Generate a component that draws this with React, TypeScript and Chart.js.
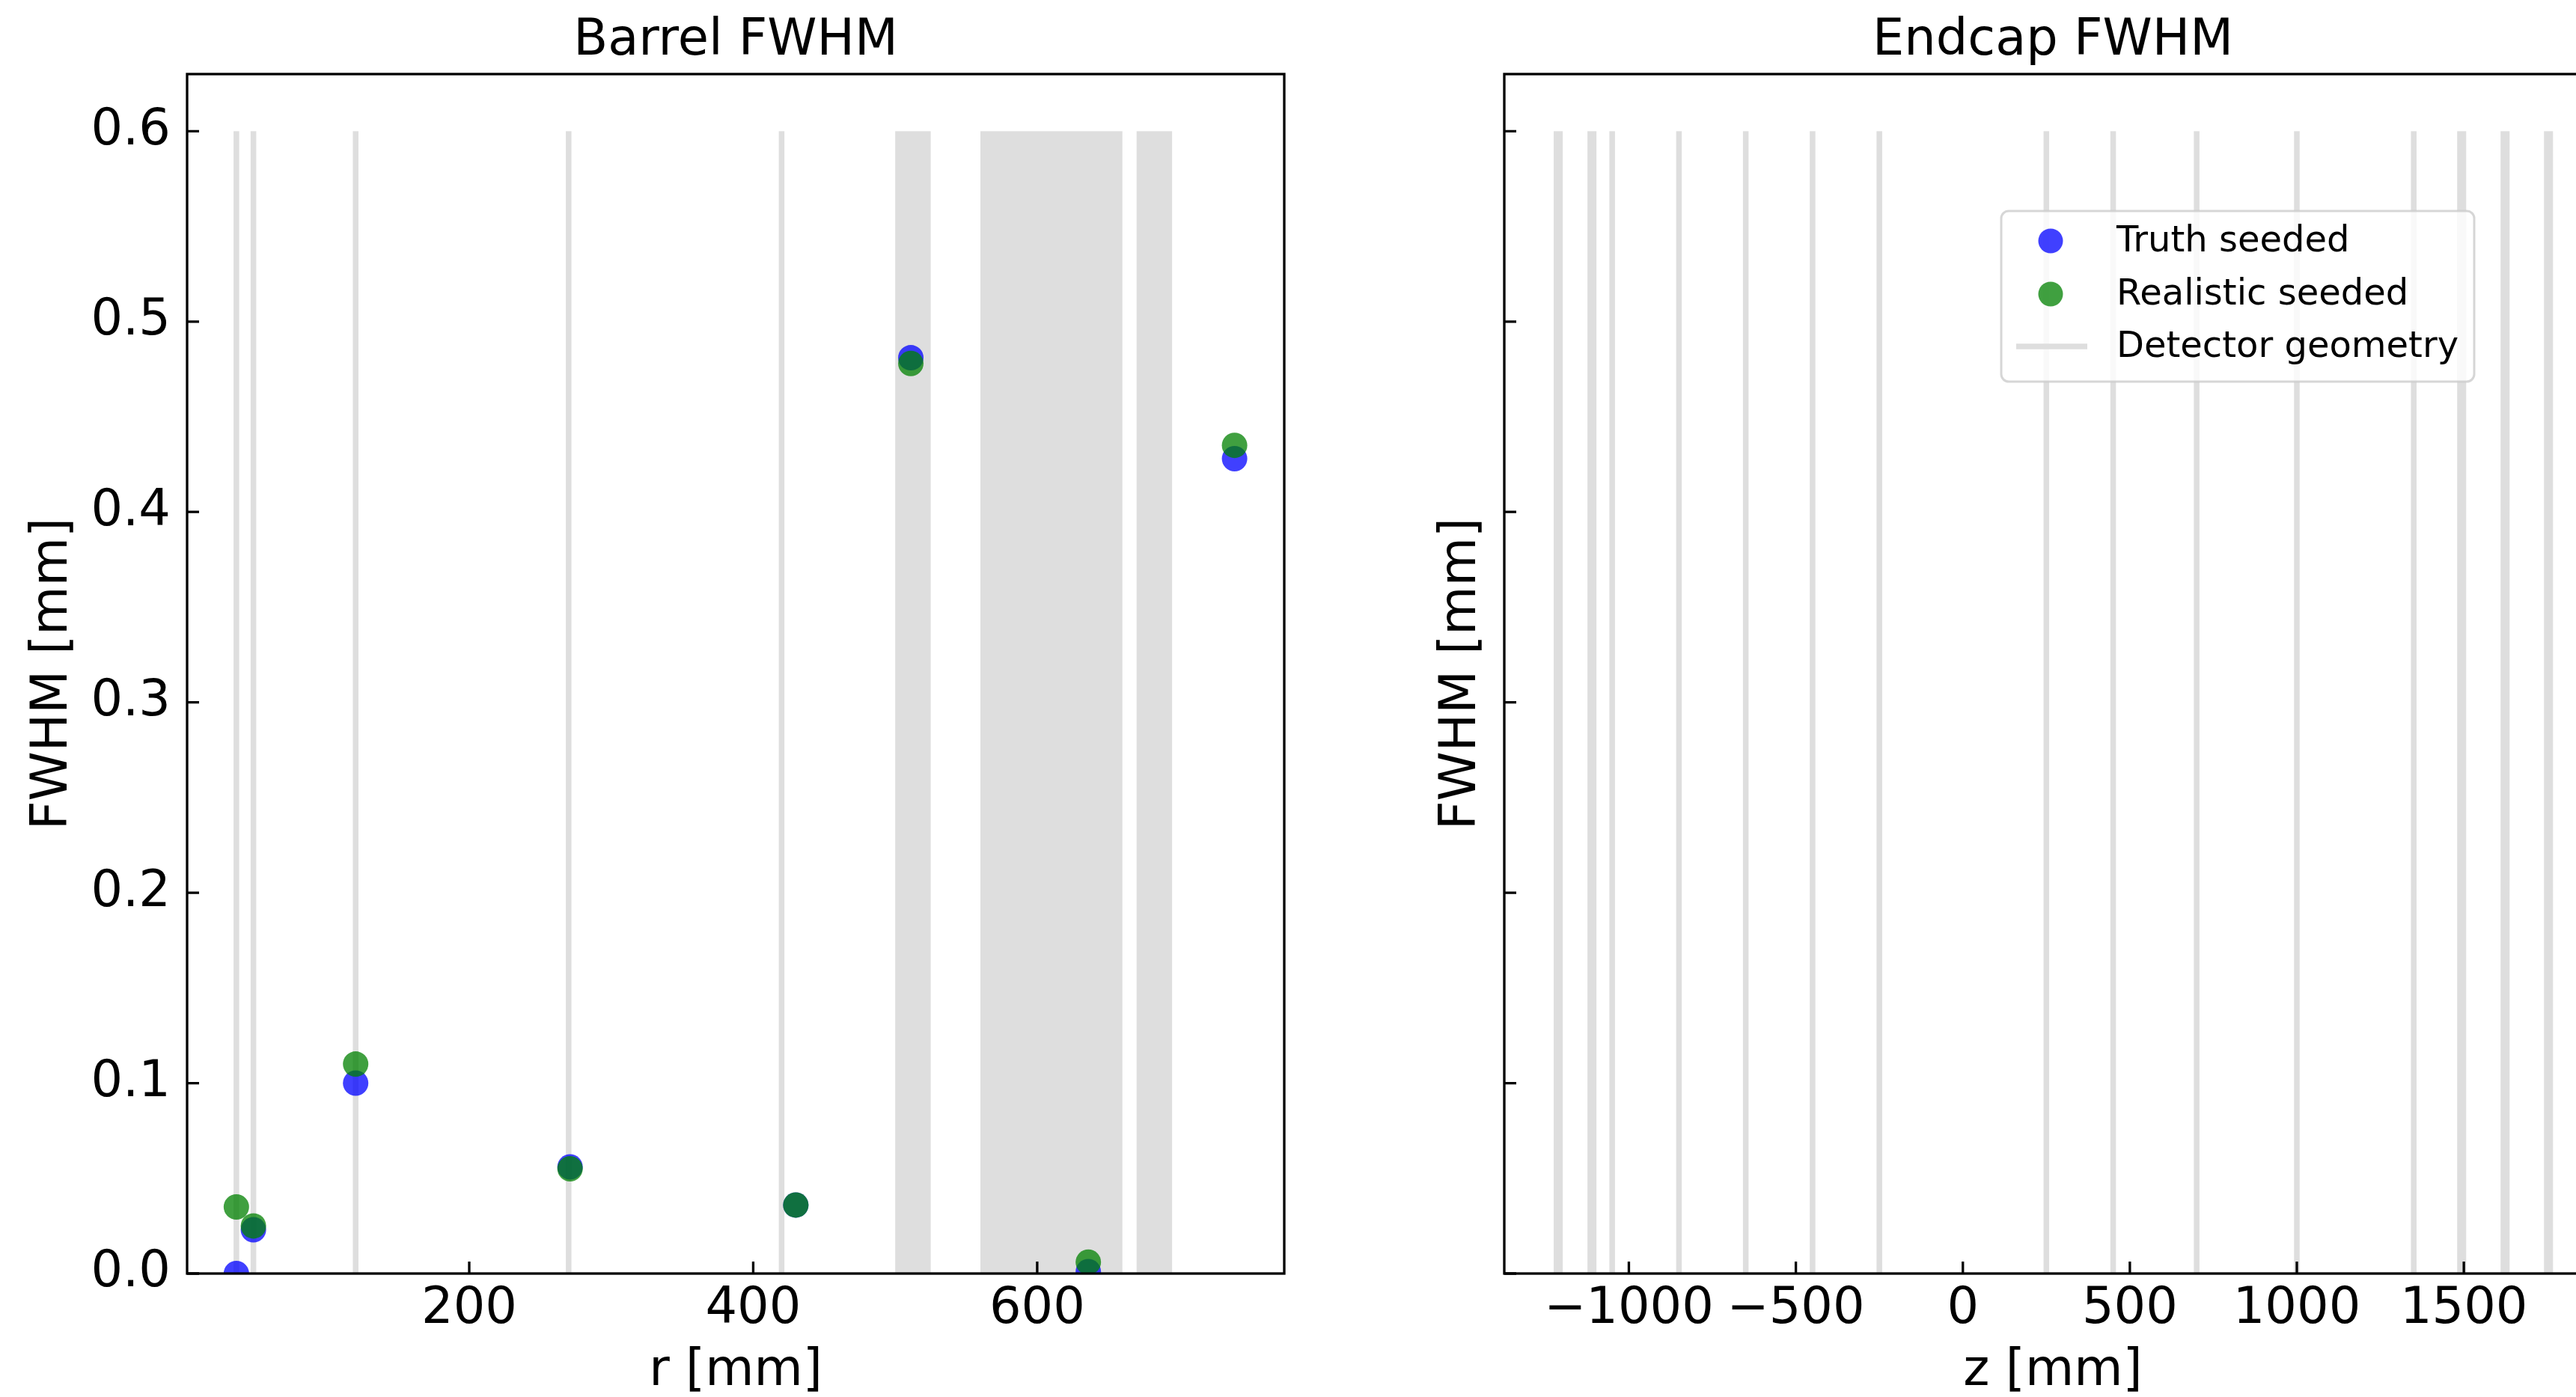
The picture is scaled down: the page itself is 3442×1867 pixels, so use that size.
import React, { useEffect, useRef } from 'react';
import { Chart, registerables } from 'chart.js';

Chart.register(...registerables);

// ---------- data ----------
const BARREL_R = [36, 48, 120, 271, 430, 511, 636, 739];
const BARREL_TRUTH = [0.0, 0.023, 0.1, 0.056, 0.036, 0.481, 0.001, 0.428];
const BARREL_REALISTIC = [0.035, 0.025, 0.11, 0.055, 0.036, 0.478, 0.006, 0.435];
const BARREL_LINES = [36, 48, 120, 270, 420];
const BARREL_BANDS: [number, number][] = [[500, 525], [560, 660], [670, 695]];

const ENDCAP_Z: number[] = [];
const ENDCAP_TRUTH: number[] = [];
const ENDCAP_REALISTIC: number[] = [];
const ENDCAP_LINES = [-1050, -850, -650, -450, -250, 250, 450, 700, 1000, 1350];
const ENDCAP_BANDS: [number, number][] = [[-1225, -1198], [-1124, -1097], [1480, 1507], [1610, 1637], [1740, 1767]];

const Y_TICKS = [0, 0.1, 0.2, 0.3, 0.4, 0.5, 0.6];
const BARREL_X_TICKS = [200, 400, 600];
const ENDCAP_X_TICKS = [-1000, -500, 0, 500, 1000, 1500];
const GEOM_TOP = 0.6;
const Y_RANGE = [0, 0.63];
const BARREL_X_RANGE = [1.3, 774];
const ENDCAP_X_RANGE = [-1373, 1912];

const LEGEND_LABELS = ['Truth seeded', 'Realistic seeded', 'Detector geometry'];

// ---------- styles ----------
const FONT = 'DejaVu Sans';
const BLUE = 'rgba(0,0,255,0.75)';
const GREEN = 'rgba(0,128,0,0.75)';
const GEOM = '#dedede';
const MARKER_R = 17;
const LINE_W = 7.5;
const SPINE_W = 3.3;
const TICK_LEN = 16;
const FS = 67;
const LEGEND_FS = 48;
const CANVAS_W = 1800;
const CANVAS_H = 1867;

interface Panel {
  title: string;
  xLabel: string;
  xs: number[];
  truth: number[];
  realistic: number[];
  lines: number[];
  bands: [number, number][];
  xTicks: number[];
  xRange: number[];
  yAxisWidth: number;
  padRight: number;
  yTitlePad: number;
  showYLabels: boolean;
  legend: null | { left: number; top: number; width: number; height: number };
}

function fmtX(v: number) {
  return v < 0 ? '\u2212' + Math.abs(v) : String(v);
}

function makePlugin(p: Panel) {
  return {
    id: 'panelDecor',
    beforeDatasetsDraw(chart: any) {
      const { ctx, chartArea: a, scales } = chart;
      const x = scales.x;
      const y = scales.y;
      ctx.save();
      ctx.beginPath();
      ctx.rect(a.left, a.top, a.right - a.left, a.bottom - a.top);
      ctx.clip();
      ctx.fillStyle = GEOM;
      const yTop = y.getPixelForValue(GEOM_TOP);
      const yBot = y.getPixelForValue(0);
      for (const v of p.lines) {
        const px = x.getPixelForValue(v);
        ctx.fillRect(px - LINE_W / 2, yTop, LINE_W, yBot - yTop);
      }
      for (const [s, e] of p.bands) {
        const x0 = x.getPixelForValue(s);
        const x1 = x.getPixelForValue(e);
        ctx.fillRect(x0, yTop, x1 - x0, yBot - yTop);
      }
      ctx.restore();
    },
    afterDraw(chart: any) {
      const { ctx, chartArea: a, scales } = chart;
      const x = scales.x;
      const y = scales.y;
      ctx.save();
      // ticks (inward)
      ctx.strokeStyle = '#000';
      ctx.lineWidth = SPINE_W;
      ctx.beginPath();
      for (const v of Y_TICKS) {
        const py = y.getPixelForValue(v);
        ctx.moveTo(a.left, py);
        ctx.lineTo(a.left + TICK_LEN, py);
      }
      for (const v of p.xTicks) {
        const px = x.getPixelForValue(v);
        ctx.moveTo(px, a.bottom);
        ctx.lineTo(px, a.bottom - TICK_LEN);
      }
      ctx.stroke();
      // spines
      ctx.lineWidth = SPINE_W;
      ctx.strokeRect(a.left, a.top, a.right - a.left, a.bottom - a.top);
      // title
      ctx.fillStyle = '#000';
      ctx.font = `${FS}px '${FONT}'`;
      ctx.textAlign = 'center';
      ctx.textBaseline = 'alphabetic';
      ctx.fillText(p.title, (a.left + a.right) / 2, a.top - 26);
      // legend
      if (p.legend) {
        const L = p.legend;
        const lx = a.left + L.left;
        const ly = a.top + L.top;
        const r = 10;
        ctx.beginPath();
        ctx.moveTo(lx + r, ly);
        ctx.arcTo(lx + L.width, ly, lx + L.width, ly + L.height, r);
        ctx.arcTo(lx + L.width, ly + L.height, lx, ly + L.height, r);
        ctx.arcTo(lx, ly + L.height, lx, ly, r);
        ctx.arcTo(lx, ly, lx + L.width, ly, r);
        ctx.closePath();
        ctx.fillStyle = 'rgba(255,255,255,0.8)';
        ctx.fill();
        ctx.strokeStyle = 'rgba(204,204,204,0.8)';
        ctx.lineWidth = 3;
        ctx.stroke();
        const rowY = [ly + 40, ly + 111, ly + 181];
        const markX = lx + 66;
        const textX = lx + 154;
        ctx.fillStyle = BLUE;
        ctx.beginPath();
        ctx.arc(markX, rowY[0], 16.5, 0, Math.PI * 2);
        ctx.fill();
        ctx.fillStyle = GREEN;
        ctx.beginPath();
        ctx.arc(markX, rowY[1], 16.5, 0, Math.PI * 2);
        ctx.fill();
        ctx.strokeStyle = GEOM;
        ctx.lineWidth = LINE_W;
        ctx.beginPath();
        ctx.moveTo(lx + 20, rowY[2]);
        ctx.lineTo(lx + 115, rowY[2]);
        ctx.stroke();
        ctx.fillStyle = '#000';
        ctx.font = `${LEGEND_FS}px '${FONT}'`;
        ctx.textAlign = 'left';
        ctx.textBaseline = 'middle';
        LEGEND_LABELS.forEach((t, i) => ctx.fillText(t, textX, rowY[i] + 2));
      }
      ctx.restore();
    },
  };
}

function makeConfig(p: Panel): any {
  const pts = (ys: number[]) => p.xs.map((xv, i) => ({ x: xv, y: ys[i] }));
  return {
    type: 'scatter',
    data: {
      datasets: [
        {
          label: LEGEND_LABELS[0],
          data: pts(p.truth),
          backgroundColor: BLUE,
          borderWidth: 0,
          pointRadius: MARKER_R,
          pointHoverRadius: MARKER_R,
          order: 1,
          clip: 0,
        },
        {
          label: LEGEND_LABELS[1],
          data: pts(p.realistic),
          backgroundColor: GREEN,
          borderWidth: 0,
          pointRadius: MARKER_R,
          pointHoverRadius: MARKER_R,
          order: 0,
          clip: 0,
        },
      ],
    },
    options: {
      animation: false,
      responsive: false,
      devicePixelRatio: 1,
      events: [],
      layout: { padding: { top: 99, right: p.padRight, bottom: 0, left: 0 } },
      plugins: {
        legend: { display: false },
        tooltip: { enabled: false },
        title: { display: false },
      },
      scales: {
        x: {
          type: 'linear',
          position: 'bottom',
          min: p.xRange[0],
          max: p.xRange[1],
          afterBuildTicks: (s: any) => {
            s.ticks = p.xTicks.map((v) => ({ value: v }));
          },
          afterFit: (s: any) => {
            s.height = 165;
          },
          grid: { display: false, drawTicks: false },
          border: { display: false },
          ticks: {
            color: '#000',
            font: { family: FONT, size: FS },
            padding: 8,
            maxRotation: 0,
            autoSkip: false,
            callback: (v: number) => fmtX(v),
          },
          title: {
            display: true,
            text: p.xLabel,
            color: '#000',
            font: { family: FONT, size: FS, lineHeight: 1 },
            padding: { top: 0, bottom: 0 },
          },
        },
        y: {
          type: 'linear',
          position: 'left',
          min: Y_RANGE[0],
          max: Y_RANGE[1],
          afterBuildTicks: (s: any) => {
            s.ticks = Y_TICKS.map((v) => ({ value: v }));
          },
          afterFit: (s: any) => {
            s.width = p.yAxisWidth;
          },
          grid: { display: false, drawTicks: false },
          border: { display: false },
          ticks: {
            display: p.showYLabels,
            color: '#000',
            font: { family: FONT, size: FS },
            padding: 22,
            autoSkip: false,
            callback: (v: number) => v.toFixed(1),
          },
          title: {
            display: true,
            text: 'FWHM [mm]',
            color: '#000',
            font: { family: FONT, size: FS, lineHeight: 1 },
            padding: { top: p.yTitlePad, bottom: 0 },
          },
        },
      },
    },
    plugins: [makePlugin(p)],
  };
}

const BARREL: Panel = {
  title: 'Barrel FWHM',
  xLabel: 'r [mm]',
  xs: BARREL_R,
  truth: BARREL_TRUTH,
  realistic: BARREL_REALISTIC,
  lines: BARREL_LINES,
  bands: BARREL_BANDS,
  xTicks: BARREL_X_TICKS,
  xRange: BARREL_X_RANGE,
  yAxisWidth: 250,
  padRight: CANVAS_W - 1716,
  yTitlePad: 38,
  showYLabels: true,
  legend: null,
};

const ENDCAP: Panel = {
  title: 'Endcap FWHM',
  xLabel: 'z [mm]',
  xs: ENDCAP_Z,
  truth: ENDCAP_TRUTH,
  realistic: ENDCAP_REALISTIC,
  lines: ENDCAP_LINES,
  bands: ENDCAP_BANDS,
  xTicks: ENDCAP_X_TICKS,
  xRange: ENDCAP_X_RANGE,
  yAxisWidth: 210,
  padRight: CANVAS_W - 1676,
  yTitlePad: 120,
  showYLabels: false,
  legend: { left: 664, top: 183, width: 632, height: 228 },
};

export default function App() {
  const leftRef = useRef<HTMLCanvasElement>(null);
  const rightRef = useRef<HTMLCanvasElement>(null);

  useEffect(() => {
    const c1 = new Chart(leftRef.current as HTMLCanvasElement, makeConfig(BARREL));
    const c2 = new Chart(rightRef.current as HTMLCanvasElement, makeConfig(ENDCAP));
    return () => {
      c1.destroy();
      c2.destroy();
    };
  }, []);

  return (
    <div
      style={{
        position: 'fixed',
        left: 0,
        top: 0,
        width: 3442,
        height: 1867,
        overflow: 'hidden',
        background: '#fff',
      }}
    >
      <canvas
        ref={leftRef}
        width={CANVAS_W}
        height={CANVAS_H}
        style={{ position: 'absolute', left: 0, top: 0, width: CANVAS_W, height: CANVAS_H }}
      />
      <canvas
        ref={rightRef}
        width={CANVAS_W}
        height={CANVAS_H}
        style={{ position: 'absolute', left: 1800, top: 0, width: CANVAS_W, height: CANVAS_H }}
      />
    </div>
  );
}
